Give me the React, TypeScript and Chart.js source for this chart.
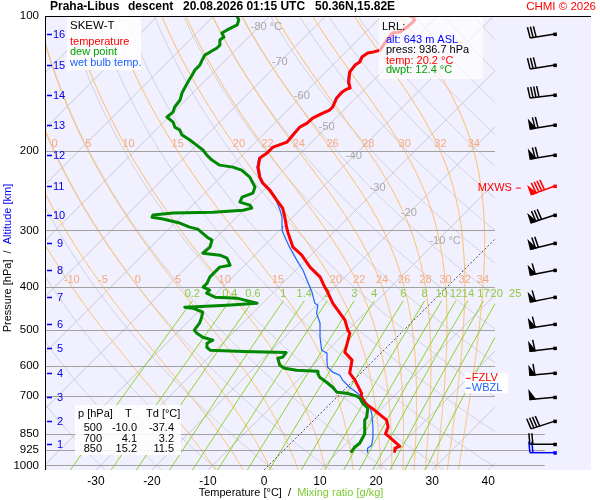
import React, { useEffect, useRef } from "react";
import { Chart, registerables } from "chart.js";

Chart.register(...registerables);

// ---------------- data ----------------
const pressureTicks = [100, 200, 300, 400, 500, 600, 700, 850, 925, 1000];
const extendedGridLevels = [850, 925, 1000];
const tempTicks = [-30, -20, -10, 0, 10, 20, 30, 40];

// temperature profile (hPa, °C), surface upward
const tempP = [936.7, 915.6, 906.4, 878.8, 850, 822, 793, 753.9, 727, 700, 690.8, 646, 623, 583, 559.8, 531.8, 507.8, 500, 475, 435.5, 407.4, 401, 381, 362, 340.5, 326.8, 302.6, 295, 280.3, 267.6, 256.8, 244, 235.4, 228.3, 216.9, 207.1, 201.8, 195.7, 190.8, 184, 176.7, 173.1, 168.7, 164.4, 161.9, 159.4, 152.2, 147.6, 145.4, 144.6, 140.3, 133.3, 128.6, 126.6, 123.4, 120.9, 120.3, 119.1, 113.1, 109.1, 108.5, 105.8, 103.7, 102.1, 100.5, 100];
const tempT = [20.2, 19.5, 20.0, 17.7, 15.2, 14.5, 13.0, 9.1, 6.1, 4.1, 3.7, 0.2, -2.0, -3.9, -6.6, -7.9, -9.1, -10.0, -12.3, -17.5, -20.9, -21.8, -24.4, -28.0, -31.6, -34.6, -38.2, -39.3, -41.4, -43.4, -45.9, -48.9, -51.4, -53.0, -55.1, -56.4, -56.0, -56.0, -54.4, -54.6, -54.8, -54.2, -54.1, -53.2, -52.5, -52.5, -53.4, -53.5, -53.2, -52.8, -54.1, -55.7, -56.0, -55.7, -56.2, -55.9, -55.1, -54.2, -54.8, -55.0, -53.9, -53.5, -53.4, -53.4, -54.2, -55.1];

// wet bulb temperature profile
const wetBulbP = [936.7, 915.6, 902, 865.4, 822, 765.6, 742, 716, 690.8, 669.9, 646, 630, 620, 604.6, 583, 562.7, 554, 518.4, 482.5, 458.3, 440, 435.5, 409.5, 387, 367.7, 349.3, 326.8, 310.5, 299.5, 295, 280.3, 270.4, 256.8, 250.3, 244, 235.4, 228.3, 216.9, 207.1, 201.8, 195.7, 190.8, 184, 176.7, 173.1, 168.7, 164.4, 161.9, 159.4, 152.2, 147.6, 145.4, 144.6, 140.3, 133.3, 128.6, 126.6, 123.4, 120.9, 120.3, 119.1, 113.1, 109.1, 108.5, 105.8, 103.7, 102.1, 100.5, 100];
const wetBulbT = [15.3, 14.6, 14.8, 13.6, 11.8, 9.1, 7.7, 5.5, 3.0, 0.5, -2.0, -3.4, -5.2, -7.0, -8.4, -9.6, -11.1, -13.7, -16.2, -18.6, -19.8, -20.7, -23.4, -26.2, -28.7, -31.6, -35.2, -37.8, -39.6, -40.0, -41.9, -43.5, -46.0, -47.5, -49.1, -51.6, -53.2, -55.3, -56.6, -56.2, -56.2, -54.6, -54.8, -55.0, -54.4, -54.3, -53.4, -52.7, -52.7, -53.6, -53.7, -53.4, -53.0, -54.3, -55.9, -56.2, -55.9, -56.4, -56.1, -55.3, -54.4, -55.0, -55.2, -54.1, -53.7, -53.6, -53.6, -54.4, -55.3];

// dew point profile
const dewP = [936.7, 911, 892.4, 865.4, 850, 822, 793, 781, 746, 727, 708.6, 700, 690.8, 687, 669.9, 652.9, 636.6, 623, 617, 614, 607.6, 598.3, 577.3, 574.3, 561, 558, 554, 545.8, 534.6, 526.5, 518.4, 507.8, 500, 482.5, 467.8, 456, 446.7, 444.4, 440, 435.5, 424.4, 422.2, 413.6, 407.4, 401, 392.9, 381, 371.5, 362, 358.4, 345.8, 340.5, 337, 326.8, 315.3, 310.5, 298, 295, 288.9, 283, 280.3, 277.3, 274.5, 273.2, 270.4, 267.6, 263.5, 259.5, 252.9, 247.7, 240.2, 228.3, 220.3, 216.9, 214.7, 209.2, 203.9, 198.7, 193.8, 188.8, 184, 179.4, 176.7, 172.2, 167.8, 163.6, 159.4, 153.8, 148.4, 143.9, 140.3, 135.3, 131.9, 128.6, 125.3, 122.1, 120.3, 117.8, 116, 113.1, 111.4, 109.1, 107.4, 104.7, 102.1, 100];
const dewT = [12.4, 12.1, 12.3, 11.8, 11.5, 10.3, 9.1, 8.9, 7.5, 5.7, 4.3, 3.2, 1.1, -0.9, -2.5, -4.5, -6.6, -7.7, -8.0, -12.0, -14.5, -15.9, -17.5, -16.8, -17.0, -24.8, -31.0, -32.1, -32.8, -32.3, -34.6, -36.4, -37.4, -37.7, -38.4, -39.1, -41.6, -43.2, -36.0, -31.0, -35.5, -39.6, -41.8, -41.8, -43.5, -43.5, -44.1, -44.1, -44.1, -42.6, -44.4, -46.2, -49.6, -49.4, -50.3, -51.7, -54.8, -56.6, -59.1, -62.8, -65.1, -65.3, -62.1, -55.1, -50.1, -48.9, -49.8, -52.1, -52.6, -51.4, -52.1, -54.8, -57.5, -59.6, -62.3, -64.6, -66.4, -68.0, -70.0, -72.1, -74.4, -75.7, -77.1, -78.3, -80.3, -80.1, -80.7, -81.0, -81.9, -82.4, -82.8, -83.3, -83.7, -83.7, -84.2, -84.6, -84.2, -83.7, -83.7, -84.6, -84.4, -85.5, -85.1, -84.2, -84.8, -85.8];

// winds at km levels (+ launch level)
const windP = [936.7, 897, 797, 705, 623, 548.3, 485, 422.2, 367.7, 320.2, 277.3, 239, 203.9, 174.8, 149.9, 128.6, 109.7];
const windDir = [270, 270, 252, 265, 265, 263, 261, 259, 259, 256, 252, 250, 261, 261, 263, 261, 261];
const windSpd = [20, 20, 40, 50, 60, 60, 60, 60, 60, 70, 80, 90, 70, 70, 40, 30, 30];
const maxWindP = 239;

// altitude labels (km) and their pressure levels
const kmValues = [1, 2, 3, 4, 5, 6, 7, 8, 9, 10, 11, 12, 13, 14, 15, 16];
const kmP = [897, 797, 705, 623, 548.3, 485, 422.2, 367.7, 320.2, 277.3, 239, 203.9, 174.8, 149.9, 128.6, 109.7];

// freezing level / wet bulb zero level
const fzlvP = 640;
const wbzlP = 673;

// reference lines
const isothermValues = [-160, -150, -140, -130, -120, -110, -100, -90, -80, -70, -60, -50, -40, -30, -20, -10, 0, 10, 20, 30, 40, 50];
const isothermLabelT = [-80, -70, -60, -50, -40, -30, -20, -10];
const isothermLabelP = [105.8, 126.6, 150.6, 176.6, 204.9, 241.7, 274.5, 316];
const dryThetaC = [-50, -40, -30, -20, -10, 0, 10, 20, 30, 40, 50, 60, 70, 80, 90, 100, 110, 120, 130, 140, 150, 160, 170, 180, 190, 200, 210];
const thetaWValues = [-10, -5, 0, 5, 10, 15, 20, 22, 24, 26, 28, 30, 32, 34];
const thetaWLabels200 = [0, 5, 10, 15, 20, 22, 24, 26, 28, 30, 32, 34];
const mixingRatios = [0.2, 0.4, 0.6, 1, 1.4, 2, 3, 4, 6, 8, 10, 12, 14, 17, 20, 25];
const mixingTopP = 430;

const tableRows = [
  ["500", "-10.0", "-37.4"],
  ["700", "4.1", "3.2"],
  ["850", "15.2", "11.5"],
];

// ---------------- geometry of the diagram ----------------
const P_TOP = 100;
const P_BOTTOM = 1023.6;
const X_MIN = -39.08;
const X_MAX = 58.35;
const SKEW = 80.2; // °C per decade of pressure (45° isotherms)
const DIAG_X_MAX = 41.2;
const GRID_EXT_X_MAX = 50.1;
const BARB_X = 51.9;
const LEVEL_LABEL_X = 36.0;

const FONT = "'Liberation Sans', Arial, Helvetica, sans-serif";
const RED = "#FF0000";
const BLUE = "#1E64FF";

function skewX(t: number, p: number) {
  return t + SKEW * Math.log10(P_BOTTOM / p);
}

function toPoints(ps: number[], ts: number[]) {
  return ps.map((p, i) => ({ x: skewX(ts[i], p), y: p }));
}

function esat(tc: number) {
  return 6.112 * Math.exp((17.67 * tc) / (tc + 243.5));
}

function moistLapse(tc: number, p: number) {
  const T = tc + 273.15;
  const e = esat(tc);
  const rs = (0.622 * e) / (p - e);
  const Rd = 287.04, cp = 1005.7, Lv = 2.501e6, eps = 0.622;
  return (Rd * T + Lv * rs) / (p * (cp + (Lv * Lv * rs * eps) / (Rd * T * T)));
}

function moistCurve(thetaW: number) {
  const up: { p: number; t: number }[] = [];
  let t = thetaW, p = 1000;
  up.push({ p, t });
  const step = 2;
  while (p > P_TOP) {
    const dp = -step;
    const k1 = moistLapse(t, p);
    const k2 = moistLapse(t + (k1 * dp) / 2, p + dp / 2);
    t += k2 * dp;
    p += dp;
    up.push({ p, t });
  }
  const down: { p: number; t: number }[] = [];
  t = thetaW; p = 1000;
  while (p < P_BOTTOM + 4) {
    const dp = step;
    const k1 = moistLapse(t, p);
    const k2 = moistLapse(t + (k1 * dp) / 2, p + dp / 2);
    t += k2 * dp;
    p += dp;
    down.push({ p, t });
  }
  return [...down.reverse(), ...up];
}

function tempAtP(curve: { p: number; t: number }[], p: number) {
  for (let i = 0; i < curve.length - 1; i++) {
    const a = curve[i], b = curve[i + 1];
    if ((a.p - p) * (b.p - p) <= 0) {
      const f = (p - a.p) / (b.p - a.p || 1);
      return a.t + f * (b.t - a.t);
    }
  }
  return curve[curve.length - 1].t;
}

function dewFromMix(w: number, p: number) {
  const e = (w * p) / (622 + w);
  const l = Math.log(e / 6.112);
  return (243.5 * l) / (17.67 - l);
}

function drawBarb(ctx: CanvasRenderingContext2D, sx: number, sy: number, dir: number, spd: number, color: string) {
  const r = (dir * Math.PI) / 180;
  const ux = Math.sin(r), uy = -Math.cos(r);
  const nx = -uy, ny = ux;
  const L = 25;
  const ex = sx + ux * L, ey = sy + uy * L;
  ctx.save();
  ctx.strokeStyle = color;
  ctx.fillStyle = color;
  ctx.lineWidth = 1.5;
  ctx.beginPath();
  ctx.moveTo(sx, sy);
  ctx.lineTo(ex, ey);
  ctx.stroke();
  ctx.fillRect(sx - 1.5, sy - 1.5, 3.5, 3.5);
  let pennants = Math.floor(spd / 50);
  const rem = spd - pennants * 50;
  let full = Math.floor(rem / 10);
  const half = rem - full * 10 >= 5;
  let pos = 0;
  const at = (d: number) => [ex - ux * d, ey - uy * d];
  while (pennants-- > 0) {
    const [ax, ay] = at(pos);
    const [bx, by] = at(pos + 5);
    ctx.beginPath();
    ctx.moveTo(ax, ay);
    ctx.lineTo(ax + nx * 8, ay + ny * 8);
    ctx.lineTo(bx, by);
    ctx.closePath();
    ctx.fill();
    ctx.stroke();
    pos += 5;
  }
  while (full-- > 0) {
    const [ax, ay] = at(pos);
    ctx.beginPath();
    ctx.moveTo(ax, ay);
    ctx.lineTo(ax + nx * 11 + ux * 1, ay + ny * 11 + uy * 1);
    ctx.stroke();
    pos += 3;
  }
  if (half) {
    const [ax, ay] = at(pos);
    ctx.beginPath();
    ctx.moveTo(ax, ay);
    ctx.lineTo(ax + nx * 6, ay + ny * 6);
    ctx.stroke();
  }
  ctx.restore();
}

function text(ctx: CanvasRenderingContext2D, s: string, x: number, y: number, color: string, size = 11, align: CanvasTextAlign = "left", bold = false) {
  ctx.font = `${bold ? "bold " : ""}${size}px ${FONT}`;
  ctx.fillStyle = color;
  ctx.textAlign = align;
  ctx.textBaseline = "middle";
  ctx.fillText(s, x, y);
}

const skewPlugin = {
  id: "skewT",
  beforeDraw(chart: any) {
    const { ctx, chartArea: a } = chart;
    ctx.save();
    ctx.fillStyle = "#F0F0FE";
    ctx.fillRect(a.left, a.top, a.right - a.left, a.bottom - a.top);
    ctx.restore();
  },
  beforeDatasetsDraw(chart: any) {
    const { ctx, chartArea: a, scales } = chart;
    const px = (X: number) => scales.x.getPixelForValue(X);
    const py = (p: number) => scales.y.getPixelForValue(p);
    const diagRight = px(DIAG_X_MAX);

    const samples: number[] = [];
    for (let i = 0; i <= 60; i++) samples.push(P_BOTTOM * Math.pow(P_TOP / P_BOTTOM, i / 60));

    const poly = (pts: { t: number; p: number }[], color: string, width: number, dash: number[] = []) => {
      ctx.beginPath();
      pts.forEach((q, i) => {
        const x = px(skewX(q.t, q.p)), y = py(q.p);
        if (i === 0) ctx.moveTo(x, y);
        else ctx.lineTo(x, y);
      });
      ctx.strokeStyle = color;
      ctx.lineWidth = width;
      ctx.setLineDash(dash);
      ctx.stroke();
      ctx.setLineDash([]);
    };

    ctx.save();
    ctx.beginPath();
    ctx.rect(a.left, a.top, diagRight - a.left, a.bottom - a.top);
    ctx.clip();

    // dry adiabats
    dryThetaC.forEach((th) => {
      const pts = samples.map((p) => ({ p, t: (th + 273.15) * Math.pow(p / 1000, 0.2857) - 273.15 }));
      poly(pts, "#D4D4DC", 1);
    });
    // isotherms
    isothermValues.forEach((t) => {
      if (t === 0) return;
      poly([{ p: P_BOTTOM, t }, { p: P_TOP, t }], "#CACAD2", 1);
    });
    // pseudo-adiabats
    const moist = thetaWValues.map((tw) => moistCurve(tw));
    moist.forEach((c) => poly(c, "#FFBE64", 1));
    // mixing ratio lines
    mixingRatios.forEach((w) => {
      const pts = [mixingTopP, 500, 600, 700, 800, 900, P_BOTTOM].map((p) => ({ p, t: dewFromMix(w, p) }));
      poly(pts, "#92D22A", 1);
    });
    // 0 °C isotherm
    poly([{ p: P_BOTTOM, t: 0 }, { p: P_TOP, t: 0 }], "#555555", 1, [2, 2]);
    ctx.restore();

    // pressure grid lines
    ctx.save();
    pressureTicks.forEach((p) => {
      if (p === P_TOP) return;
      const y = Math.round(py(p)) + 0.5;
      const xr = extendedGridLevels.includes(p) ? px(GRID_EXT_X_MAX) : diagRight;
      ctx.beginPath();
      ctx.moveTo(a.left, y);
      ctx.lineTo(xr, y);
      ctx.strokeStyle = "#A0A0A0";
      ctx.lineWidth = 1;
      ctx.stroke();
    });
    ctx.restore();

    // labels of reference lines
    ctx.save();
    isothermLabelT.forEach((t, i) => {
      const p = isothermLabelP[i];
      const x = px(skewX(t, p));
      const y = py(p);
      ctx.font = `11px ${FONT}`;
      const s = String(t);
      const w = ctx.measureText(s).width;
      const extra = t === -80 || t === -10 ? " °C" : "";
      text(ctx, s + extra, x - w / 2, y, "#A8A8A8", 11, "left");
    });
    [400, 200].forEach((lp) => {
      thetaWValues.forEach((tw, i) => {
        if (lp === 200 && !thetaWLabels200.includes(tw)) return;
        const t = tempAtP(moist[i], lp);
        let x = px(skewX(t, lp));
        if (x > diagRight) return;
        if (x < a.left + 6) x = a.left + 6;
        text(ctx, String(tw), x, py(lp) - 7, "#F8A880", 11, "center");
      });
    });
    mixingRatios.forEach((w) => {
      const x = px(skewX(dewFromMix(w, mixingTopP), mixingTopP));
      text(ctx, String(w), x, py(mixingTopP) - 7, "#8CCB3C", 11, "center");
    });
    ctx.restore();
  },
  afterDatasetsDraw(chart: any) {
    const { ctx, chartArea: a, scales } = chart;
    const px = (X: number) => scales.x.getPixelForValue(X);
    const py = (p: number) => scales.y.getPixelForValue(p);
    ctx.save();

    // axis frame lines
    ctx.strokeStyle = "#000";
    ctx.lineWidth = 1;
    ctx.beginPath();
    ctx.moveTo(Math.round(a.left) + 0.5, a.top);
    ctx.lineTo(Math.round(a.left) + 0.5, a.bottom);
    ctx.moveTo(a.left, Math.round(a.top) + 0.5);
    ctx.lineTo(a.right, Math.round(a.top) + 0.5);
    ctx.stroke();

    // legend box
    ctx.fillStyle = "rgba(255,255,255,0.85)";
    ctx.fillRect(67, 17, 74, 53);
    text(ctx, "SKEW-T", 70, 26, "#000", 11.5);
    text(ctx, "temperature", 70, 42, RED, 11);
    text(ctx, "dew point", 70, 52, "#00A000", 11);
    text(ctx, "wet bulb temp.", 70, 63, BLUE, 11);

    // LRL box
    ctx.fillStyle = "rgba(255,255,255,0.65)";
    ctx.fillRect(379, 17, 104, 62);
    text(ctx, "LRL:", 382, 27, "#000", 11);
    text(ctx, "alt: 643 m ASL", 386, 40, "#0000FF", 11);
    text(ctx, "press: 936.7 hPa", 386, 50, "#000", 11);
    text(ctx, "temp: 20.2 °C", 386, 61, RED, 11);
    text(ctx, "dwpt: 12.4 °C", 386, 70, "#00A000", 11);

    // table box
    ctx.fillStyle = "rgba(255,255,255,0.85)";
    ctx.fillRect(75, 405, 106, 50);
    text(ctx, "p [hPa]", 78, 414, "#000", 11);
    text(ctx, "T", 125, 414, "#000", 11);
    text(ctx, "Td [°C]", 146, 414, "#000", 11);
    tableRows.forEach((r, i) => {
      const y = 428 + i * 10.5;
      text(ctx, r[0], 102, y, "#000", 11, "right");
      text(ctx, r[1], 137, y, "#000", 11, "right");
      text(ctx, r[2], 174, y, "#000", 11, "right");
    });

    // freezing level / wet bulb zero labels
    const lx = px(LEVEL_LABEL_X);
    ctx.fillStyle = "#FFFFFF";
    ctx.fillRect(lx - 1, 373, 43, 20);
    const yf = py(fzlvP), yw = py(wbzlP);
    ctx.lineWidth = 1;
    ctx.strokeStyle = RED;
    ctx.beginPath(); ctx.moveTo(lx, yf); ctx.lineTo(lx + 5, yf); ctx.stroke();
    text(ctx, "FZLV", lx + 6, yf, RED, 11);
    ctx.strokeStyle = BLUE;
    ctx.beginPath(); ctx.moveTo(lx, yw); ctx.lineTo(lx + 5, yw); ctx.stroke();
    text(ctx, "WBZL", lx + 6, yw, BLUE, 11);

    // wind barbs
    const bx = px(BARB_X);
    windP.forEach((p, i) => {
      const color = i === 0 ? "#0000FF" : p === maxWindP ? RED : "#000";
      drawBarb(ctx, bx, py(p), windDir[i], windSpd[i], color);
    });
    const ym = py(maxWindP);
    ctx.strokeStyle = RED;
    ctx.lineWidth = 1;
    ctx.beginPath(); ctx.moveTo(bx - 39, ym + 2); ctx.lineTo(bx - 34, ym + 2); ctx.stroke();
    text(ctx, "MXWS", bx - 43, ym + 2, RED, 11, "right");

    // altitude labels
    kmValues.forEach((k, i) => {
      const y = Math.round(py(kmP[i])) + 0.5;
      ctx.strokeStyle = "#0000EE";
      ctx.lineWidth = 1.5;
      ctx.beginPath(); ctx.moveTo(a.left + 2, y); ctx.lineTo(a.left + 7, y); ctx.stroke();
      text(ctx, String(k), k >= 10 ? a.left + 8 : a.left + 12, y, "#0000EE", 11);
    });

    // title
    text(ctx, "Praha-Libus", 50, 7, "#000", 12, "left", true);
    text(ctx, "descent", 128, 7, "#000", 12, "left", true);
    text(ctx, "20.08.2026 01:15 UTC", 183, 7, "#000", 12, "left", true);
    text(ctx, "50.36N,15.82E", 315, 7, "#000", 12, "left", true);
    text(ctx, "CHMI © 2026", 596, 7, RED, 11.5, "right");

    // x-axis title
    ctx.font = `11px ${FONT}`;
    const t1 = "Temperature [°C]", t2 = "  /  ", t3 = "Mixing ratio [g/kg]";
    const w1 = ctx.measureText(t1).width, w2 = ctx.measureText(t2).width, w3 = ctx.measureText(t3).width;
    const x0 = 291 - (w1 + w2 + w3) / 2;
    text(ctx, t1, x0, 493, "#000", 11);
    text(ctx, t2, x0 + w1, 493, "#000", 11);
    text(ctx, t3, x0 + w1 + w2, 493, "#7CC832", 11);

    // y-axis title
    ctx.save();
    ctx.translate(8, 258);
    ctx.rotate(-Math.PI / 2);
    const s1 = "Pressure [hPa]", s2 = "  /  ", s3 = "Altitude [km]";
    ctx.font = `11px ${FONT}`;
    const v1 = ctx.measureText(s1).width, v2 = ctx.measureText(s2).width, v3 = ctx.measureText(s3).width;
    const y0 = -(v1 + v2 + v3) / 2;
    text(ctx, s1, y0, 0, "#000", 11);
    text(ctx, s2, y0 + v1, 0, "#000", 11);
    text(ctx, s3, y0 + v1 + v2, 0, "#0000EE", 11);
    ctx.restore();

    ctx.restore();
  },
};

export default function App() {
  const ref = useRef<HTMLCanvasElement>(null);
  useEffect(() => {
    document.body.style.margin = "0";
    const chart = new Chart(ref.current as HTMLCanvasElement, {
      type: "scatter",
      data: {
        datasets: [
          {
            label: "dew point",
            data: toPoints(dewP, dewT),
            showLine: true,
            borderColor: "#008800",
            borderWidth: 3,
            pointRadius: 0,
            borderJoinStyle: "round",
            order: 0,
          },
          {
            label: "temperature",
            data: toPoints(tempP, tempT),
            showLine: true,
            borderColor: RED,
            borderWidth: 3,
            pointRadius: 0,
            borderJoinStyle: "round",
            order: 1,
          },
          {
            label: "wet bulb temp.",
            data: toPoints(wetBulbP, wetBulbT),
            showLine: true,
            borderColor: BLUE,
            borderWidth: 1.2,
            pointRadius: 0,
            order: 2,
          },
        ],
      },
      options: {
        animation: false,
        responsive: false,
        devicePixelRatio: 1,
        layout: { padding: { top: 16, right: 9, left: 0, bottom: 0 } },
        plugins: { legend: { display: false }, tooltip: { enabled: false } },
        scales: {
          x: {
            type: "linear",
            min: X_MIN,
            max: X_MAX,
            grid: { display: false, drawTicks: false },
            border: { display: false },
            afterBuildTicks: (s: any) => { s.ticks = tempTicks.map((v) => ({ value: v })); },
            afterFit: (s: any) => { s.height = 30; },
            ticks: { autoSkip: false, maxRotation: 0, padding: 4, color: "#000", font: { family: FONT, size: 12 }, callback: (v: any) => String(v) },
          },
          y: {
            type: "logarithmic",
            reverse: true,
            min: P_TOP,
            max: P_BOTTOM,
            grid: { display: false, drawTicks: false },
            border: { display: false },
            afterBuildTicks: (s: any) => { s.ticks = pressureTicks.map((v) => ({ value: v })); },
            afterFit: (s: any) => { s.width = 45; },
            ticks: { autoSkip: false, padding: 6, color: "#000", font: { family: FONT, size: 11.5 }, callback: (v: any) => String(v) },
          },
        },
      },
      plugins: [skewPlugin],
    } as any);
    return () => chart.destroy();
  }, []);
  return (
    <div style={{ position: "absolute", left: 0, top: 0 }}>
      <canvas ref={ref} width={600} height={500} style={{ display: "block", width: 600, height: 500 }} />
    </div>
  );
}
